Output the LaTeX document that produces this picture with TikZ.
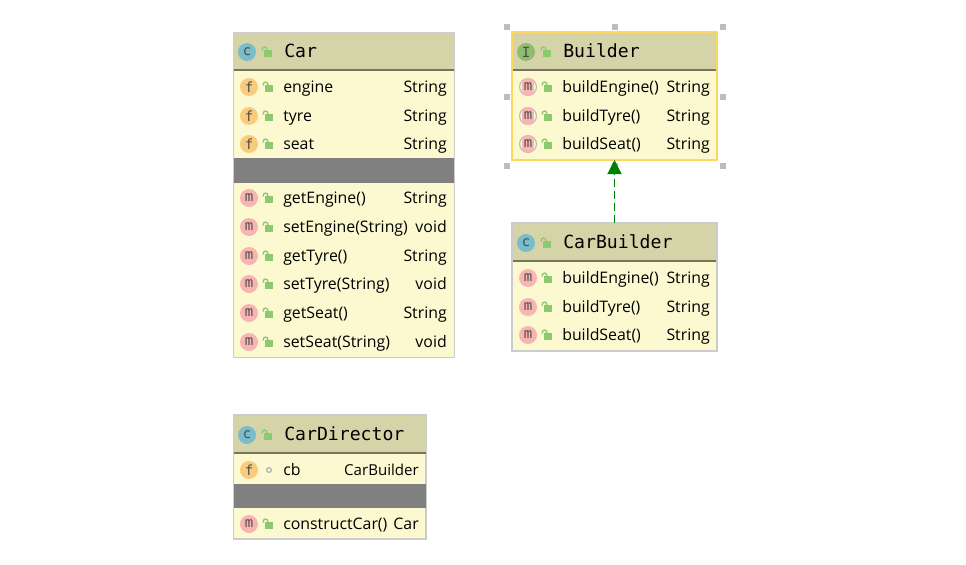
\documentclass[tikz,border=0pt]{standalone}
\usepackage{fontspec}
\setmainfont{Open Sans}
\newfontfamily\titlefont{DejaVu Sans Mono}
\usetikzlibrary{arrows.meta}
\definecolor{hdr}{HTML}{D5D4A9}
\definecolor{bodyc}{HTML}{FCF9D1}
\definecolor{edge}{HTML}{CCCCCC}
\definecolor{sep}{HTML}{74745F}
\definecolor{band}{HTML}{808080}
\definecolor{sel}{HTML}{FFD75A}
\definecolor{lockg}{HTML}{8DC96E}
\definecolor{ciconc}{HTML}{79BCCB}
\definecolor{ficon}{HTML}{F9CB7C}
\definecolor{micon}{HTML}{F8B4B0}
\definecolor{iicon}{HTML}{8FBC6D}
\definecolor{handle}{HTML}{BDBDBD}
\definecolor{inh}{HTML}{008000}
\tikzset{
  px/.style={x=0.75pt,y=-0.75pt},
  boxn/.style={draw=edge,line width=0.9pt,inner sep=0pt,outer sep=0pt,anchor=north west,fill=bodyc},
  selbox/.style={boxn,draw=sel,line width=1.4pt},
  membertxt/.style={inner sep=0pt,anchor=base west,font=\fontsize{11.9}{14}\selectfont,text=black},
  typetxt/.style={inner sep=0pt,anchor=base east,font=\fontsize{11.9}{14}\selectfont,text=black},
  titletxt/.style={inner sep=0pt,anchor=base west,font=\titlefont\fontsize{13.6}{16}\selectfont,text=black},
  iconc/.style={circle,minimum size=13.5pt,inner sep=0pt,font=\titlefont\fontsize{10.5}{11}\selectfont,text=black!70},
  cic/.style={iconc,fill=ciconc},
  fic/.style={iconc,fill=ficon},
  mic/.style={iconc,fill=micon},
  iic/.style={iconc,fill=iicon},
  absm/.style={iconc,rectangle,rounded corners=4.4pt,minimum width=8.8pt,minimum height=13.5pt,fill=micon},
  handlen/.style={fill=handle,minimum size=4.5pt,inner sep=0pt},
  inherit/.style={draw=inh,line width=0.9pt,dash pattern=on 6pt off 3pt,-{Triangle[width=10.5pt,length=10.5pt,fill=inh,color=inh]}},
}
% lock: #1 = left of body + 3 in rows, #2 = row centre
\newcommand{\lockic}[2]{%
  \fill[lockg] (#1-3,#2-2) rectangle (#1+5,#2+5);
  \draw[lockg,line width=1pt] (#1-5,#2-1.5) .. controls (#1-5,#2-6) and (#1,#2-6) .. (#1,#2-2);
}
% name, x icon, x lock, x text-right, y, icon style, letter, text, type
\newcommand{\memberrow}[9]{%
  \node[#6] (#1i) at (#2,#5) {#7};
  \lockic{#3}{#5}
  \node[membertxt] (#1t) at (#3+15,#5+5.5) {#8};
  \node[typetxt] (#1y) at (#4,#5+5.5) {#9};
}
\newcommand{\hdrbar}[3]{% x1 x2 y
  \fill[sep] (#1,#3-1) rectangle (#2,#3+1);
}
\begin{document}
\begin{tikzpicture}[px]
\useasboundingbox (0,0) rectangle (966,564);
\fill[white] (0,0) rectangle (966,564);

% ---- Car
\node[boxn,minimum width=165.75pt,minimum height=243.75pt] (car) at (233.5,32.5) {};
\fill[hdr] (234,33) rectangle (454,69);
\hdrbar{234}{454}{70}
\fill[band] (234,158) rectangle (454,183);
\node[cic] (carI) at (247,52) {c};
\lockic{267}{52}
\node[titletxt] (carT) at (284,57.5) {Car};
\memberrow{cA}{249}{268}{447}{87}{fic}{f}{engine}{String}
\memberrow{cB}{249}{268}{447}{116}{fic}{f}{tyre}{String}
\memberrow{cC}{249}{268}{447}{144}{fic}{f}{seat}{String}
\memberrow{cD}{249}{268}{447}{198}{mic}{m}{getEngine()}{String}
\memberrow{cE}{249}{268}{447}{227}{mic}{m}{setEngine(String)}{void}
\memberrow{cF}{249}{268}{447}{256}{mic}{m}{getTyre()}{String}
\memberrow{cG}{249}{268}{447}{284}{mic}{m}{setTyre(String)}{void}
\memberrow{cH}{249}{268}{447}{313}{mic}{m}{getSeat()}{String}
\memberrow{cJ}{249}{268}{447}{342}{mic}{m}{setSeat(String)}{void}

% ---- Builder
\node[selbox,minimum width=153.75pt,minimum height=96pt] (builder) at (512,32) {};
\fill[hdr] (513,33) rectangle (716,69);
\hdrbar{513}{716}{70}
\node[iic] (bI) at (526,52) {I};
\lockic{546}{52}
\node[titletxt] (bT) at (563,57.5) {Builder};
\foreach \yy in {87,116,144}{
  \fill[gray!55] (528,\yy) circle[radius=9];
  \fill[bodyc] (528,\yy) circle[radius=7.8];
}
\memberrow{bA}{528}{547}{710}{87}{absm}{m}{buildEngine()}{String}
\memberrow{bB}{528}{547}{710}{116}{absm}{m}{buildTyre()}{String}
\memberrow{bC}{528}{547}{710}{144}{absm}{m}{buildSeat()}{String}
\node[handlen] (h1) at (507,27) {};
\node[handlen] (h2) at (615,27) {};
\node[handlen] (h3) at (723,27) {};
\node[handlen] (h4) at (507,97) {};
\node[handlen] (h5) at (723,97) {};
\node[handlen] (h6) at (507,166) {};
\node[handlen] (h7) at (615,166) {};
\node[handlen] (h8) at (723,166) {};

% ---- CarBuilder
\node[boxn,minimum width=153.75pt,minimum height=96pt] (carbuilder) at (512,223) {};
\fill[hdr] (513,224) rectangle (716,260);
\hdrbar{513}{716}{261}
\node[cic] (cbI) at (526,243) {c};
\lockic{546}{243}
\node[titletxt] (cbT) at (563,248.5) {CarBuilder};
\memberrow{dA}{528}{547}{710}{278}{mic}{m}{buildEngine()}{String}
\memberrow{dB}{528}{547}{710}{307}{mic}{m}{buildTyre()}{String}
\memberrow{dC}{528}{547}{710}{335}{mic}{m}{buildSeat()}{String}

% ---- CarDirector
\node[boxn,minimum width=144.4pt,minimum height=93pt] (director) at (233.5,415) {};
\fill[hdr] (234,416) rectangle (425.5,452);
\hdrbar{234}{425.5}{453}
\fill[band] (234,484) rectangle (425.5,508);
\node[cic] (eI) at (247,435) {c};
\lockic{267}{435}
\node[titletxt] (eT) at (284,440.5) {CarDirector};
\node[fic] (eAi) at (249,470) {f};
\node[circle,draw=gray!70,line width=0.8pt,minimum size=3.5pt,inner sep=0pt] (eAv) at (269,470) {};
\node[membertxt] (eAt) at (283,475.5) {cb};
\node[typetxt,font=\fontsize{11.3}{14}\selectfont] (eAy) at (419,475.5) {CarBuilder};
\memberrow{eB}{249}{268}{419}{524}{mic}{m}{constructCar()}{Car}

% ---- Connector
\draw[inherit] (carbuilder.north) -- (builder.south);
\end{tikzpicture}
\end{document}
